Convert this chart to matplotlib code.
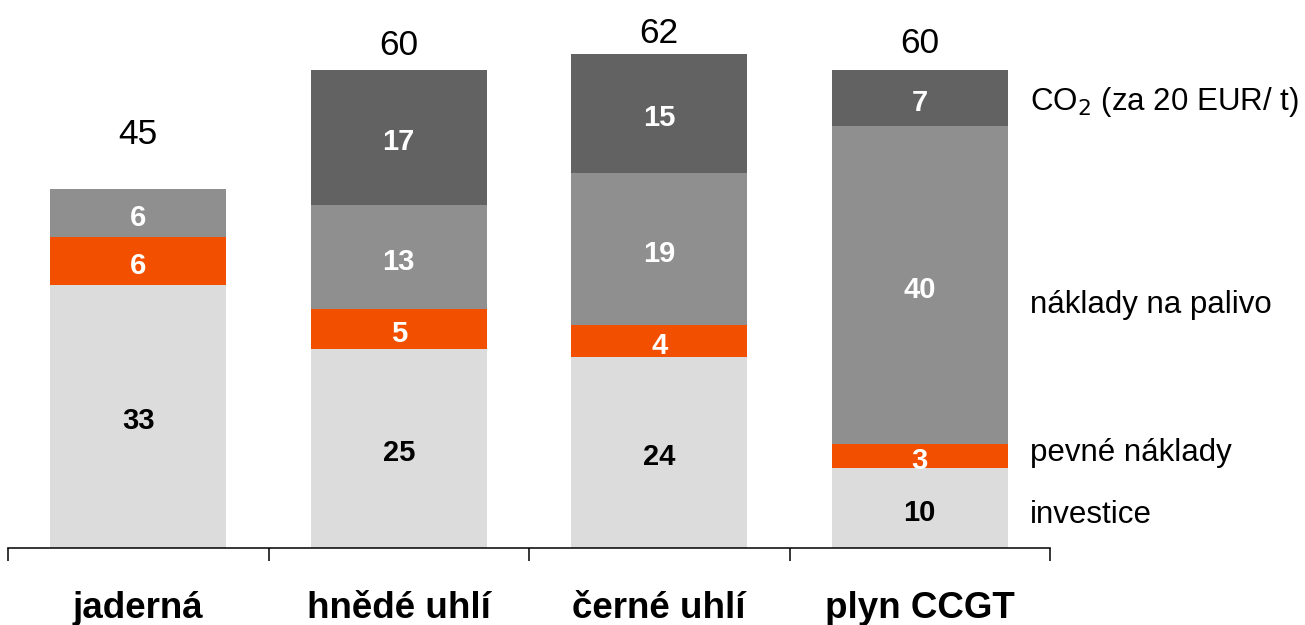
import matplotlib
matplotlib.use('Agg')
import matplotlib.pyplot as plt
import numpy as np

plt.rcParams['font.family'] = ['Liberation Sans', 'DejaVu Sans']

# ---- data ----
categories = ['jaderná', 'hnědé uhlí', 'černé uhlí', 'plyn CCGT']
investice = [33, 25, 24, 10]
pevne     = [6, 5, 4, 3]
palivo    = [6, 13, 19, 40]
co2       = [0, 17, 15, 7]
totals    = [45, 60, 62, 60]

series = [
    ('investice', investice, '#dcdcdc', 'black'),
    ('pevné náklady', pevne, '#f25000', 'white'),
    ('náklady na palivo', palivo, '#8f8f8f', 'white'),
    ('CO$_2$ (za 20 EUR/ t)', co2, '#626262', 'white'),
]
# y positions of the series names on the right (data units)
legend_y = [4.1, 11.9, 30.5, 56.0]
# gap (points) between bar top and total label baseline
total_gap = [32.4, 10.8, 7.9, 12.2]

fig = plt.figure(figsize=(13.05, 6.25), dpi=100)
ax = fig.add_axes([8/1305, 77/625, 1042/1305, 548/625])

x = np.arange(len(categories))
bottom = np.zeros(len(categories))
for name, vals, col, tcol in series:
    vals = np.array(vals, float)
    ax.bar(x, vals, bottom=bottom, width=0.675, color=col, linewidth=0)
    for xi, b, v in zip(x, bottom, vals):
        if v > 0:
            ax.annotate(f'{v:.0f}', (xi, b + v/2), xytext=(0, -3.5),
                        textcoords='offset points', ha='center', va='center',
                        color=tcol, fontsize=21, fontweight='bold')
    bottom += vals

for xi, t, g in zip(x, totals, total_gap):
    ax.annotate(f'{t}', (xi, t), xytext=(0, g), textcoords='offset points',
                ha='center', va='baseline', fontsize=25.5)

for (name, _, _, _), ly in zip(series, legend_y):
    ax.text(3.423, ly, name, ha='left', va='center', fontsize=22.5, clip_on=False)

ax.set_xlim(-0.5, 3.5)
ax.set_ylim(0, 548/7.97)
for s in ['top', 'right', 'left']:
    ax.spines[s].set_visible(False)
ax.spines['bottom'].set_linewidth(1.1)
ax.set_yticks([])
ax.set_xticks([-0.5, 0.5, 1.5, 2.5, 3.5])
ax.set_xticklabels([])
ax.tick_params(axis='x', direction='out', length=9, width=1.1)
for xi, c in zip(x, categories):
    ax.text(xi, -7.6, c, ha='center', va='center', fontsize=26.5, fontweight='bold')

fig.savefig('out.png', dpi=100, facecolor='white')
